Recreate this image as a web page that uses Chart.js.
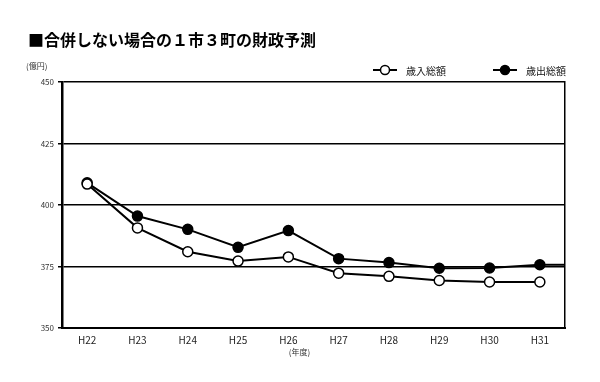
<!DOCTYPE html>
<html>
<head>
<meta charset="utf-8">
<script src="https://cdn.jsdelivr.net/npm/chart.js@4"></script>
<style>
  html, body { margin: 0; padding: 0; background: #fff; }
  #wrap { width: 600px; height: 382px; position: relative; }
</style>
</head>
<body>
<div id="wrap"><canvas id="chart"></canvas></div>
<script>
// values (億円)
const years = ['H22', 'H23', 'H24', 'H25', 'H26', 'H27', 'H28', 'H29', 'H30', 'H31'];
const revenue = [408.5, 390.7, 381.0, 377.2, 378.9, 372.3, 371.0, 369.3, 368.7, 368.7];
const expense = [409.0, 395.5, 390.1, 382.8, 389.6, 378.2, 376.6, 374.3, 374.4, 375.7];
const yTicks = [350, 375, 400, 425, 450];

const titleText = '■合併しない場合の１市３町の財政予測';
const jpFont = '"Noto Sans CJK JP", "Noto Sans", sans-serif';

// title, units and the line-style legend drawn on the canvas
const decorations = {
    id: 'decorations',
    afterDatasetsDraw(chart) {
        // the expense line runs on to the right edge in the original
        const meta = chart.getDatasetMeta(1);
        const last = meta.data[meta.data.length - 1];
        const ctx = chart.ctx;
        ctx.save();
        ctx.strokeStyle = '#000';
        ctx.lineWidth = 2;
        ctx.beginPath();
        ctx.moveTo(last.x, last.y);
        ctx.lineTo(chart.chartArea.right, last.y);
        ctx.stroke();
        ctx.restore();
    },
    afterDraw(chart) {
        const ctx = chart.ctx;
        const area = chart.chartArea;
        ctx.save();
        ctx.fillStyle = '#000';
        ctx.font = 'bold 16px ' + jpFont;
        ctx.textBaseline = 'middle';
        ctx.textAlign = 'left';
        ctx.fillText(titleText, 28, 40);

        ctx.font = '8px ' + jpFont;
        ctx.fillStyle = '#333';
        ctx.fillText('(億円)', 26, 66);
        ctx.textAlign = 'center';
        ctx.fillText('(年度)', (area.left + area.right) / 2 - 14, 352);

        // legend
        let x = 373;
        const y = 70;
        chart.data.datasets.forEach((ds) => {
            ctx.strokeStyle = '#000';
            ctx.lineWidth = 2;
            ctx.beginPath();
            ctx.moveTo(x, y);
            ctx.lineTo(x + 24, y);
            ctx.stroke();
            ctx.beginPath();
            ctx.arc(x + 12, y, 4.5, 0, Math.PI * 2);
            ctx.fillStyle = ds.pointBackgroundColor;
            ctx.fill();
            ctx.lineWidth = 1.5;
            ctx.stroke();
            ctx.fillStyle = '#111';
            ctx.font = '10px ' + jpFont;
            ctx.textAlign = 'left';
            ctx.fillText(ds.label, x + 33, y + 1);
            x += 120;
        });
        ctx.restore();
    }
};

new Chart(document.getElementById('chart'), {
    type: 'line',
    data: {
        labels: years,
        datasets: [
            {
                label: '歳入総額',
                data: revenue,
                borderColor: '#000',
                borderWidth: 2,
                pointRadius: 5,
                pointBackgroundColor: '#fff',
                pointBorderColor: '#000',
                pointBorderWidth: 1.5,
                tension: 0
            },
            {
                label: '歳出総額',
                data: expense,
                borderColor: '#000',
                borderWidth: 2,
                pointRadius: 5,
                pointBackgroundColor: '#000',
                pointBorderColor: '#000',
                pointBorderWidth: 1.5,
                tension: 0
            }
        ]
    },
    options: {
        responsive: true,
        maintainAspectRatio: false,
        animation: false,
        layout: { padding: { top: 82, right: 35, left: 0, bottom: 0 } },
        scales: {
            x: {
                offset: true,
                afterFit: (scale) => { scale.height = 54; },
                grid: { display: false, drawTicks: false },
                border: { display: true, color: '#000', width: 2 },
                ticks: {
                    padding: 6,
                    color: '#222',
                    font: { family: jpFont, size: 10 }
                }
            },
            y: {
                min: 350,
                max: 450,
                afterFit: (scale) => { scale.width = 62; },
                afterBuildTicks: (scale) => {
                    scale.ticks = yTicks.map(v => ({ value: v }));
                },
                grid: {
                    color: '#000',
                    lineWidth: 1.5,
                    tickLength: 4,
                    drawOnChartArea: true
                },
                border: { display: true, color: '#000', width: 2.5 },
                ticks: {
                    padding: 4,
                    color: '#333',
                    font: { family: jpFont, size: 8 }
                }
            },
            yRight: {
                position: 'right',
                min: 350,
                max: 450,
                afterFit: (scale) => { scale.width = 0; },
                grid: { display: false },
                border: { display: true, color: '#000', width: 1.5 },
                ticks: { display: false }
            }
        },
        plugins: {
            legend: { display: false },
            tooltip: { enabled: false }
        }
    },
    plugins: [decorations]
});
</script>
</body>
</html>
